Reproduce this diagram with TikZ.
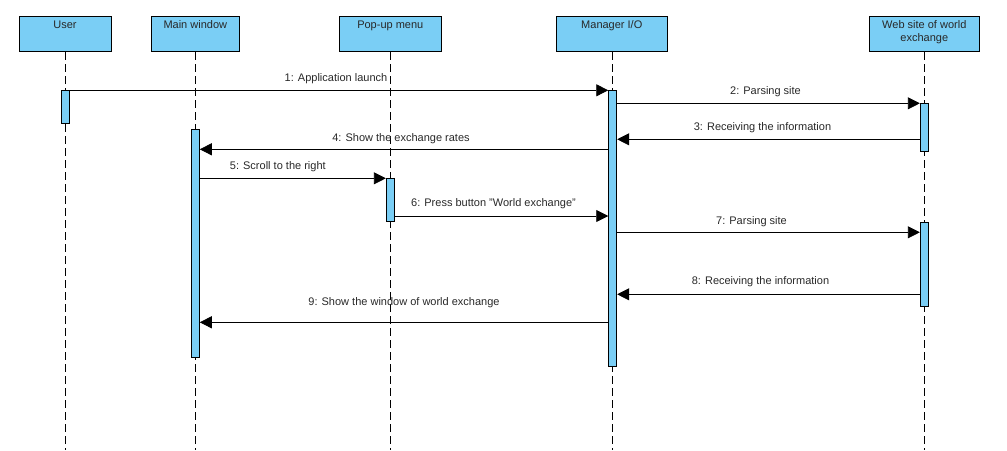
\documentclass[tikz,border=0pt]{standalone}
\usepackage{fontspec}
\setmainfont{Liberation Sans}
\usetikzlibrary{arrows.meta}
\definecolor{lifefill}{RGB}{122,206,245}
\definecolor{txtcol}{RGB}{40,40,40}
\begin{document}
\begin{tikzpicture}[x=1pt,y=-1pt,
  font=\fontsize{11}{13}\selectfont,
  head/.style={draw=black, line width=0.9pt, fill=lifefill, minimum height=35pt, inner sep=0pt, anchor=north},
  headtext/.style={anchor=north, inner sep=0pt, yshift=-4pt, align=center, text=txtcol},
  life/.style={draw=black, line width=0.7pt, dash pattern=on 8pt off 4pt},
  act/.style={draw=black, line width=0.9pt, fill=lifefill, minimum width=8pt, inner sep=0pt, anchor=north},
  msg/.style={draw=black, line width=0.8pt, -{Triangle[length=12pt,width=12pt]}},
  lbl/.style={midway, anchor=base, yshift=9pt, inner sep=0pt, text=txtcol}
]
\useasboundingbox (0,0) rectangle (1007,450);

% headers
\node[head, minimum width=92pt] (user) at (65,16.3) {};
\node[headtext] (userT) at (user.north) {User};
\node[head, minimum width=88pt] (mainw) at (195.3,16.3) {};
\node[headtext] (mainwT) at (mainw.north) {Main window};
\node[head, minimum width=102pt] (popup) at (390.3,16.3) {};
\node[headtext] (popupT) at (popup.north) {Pop-up menu};
\node[head, minimum width=111pt] (mgr) at (611.8,16.3) {};
\node[headtext] (mgrT) at (mgr.north) {Manager I/O};
\node[head, minimum width=110pt] (web) at (924.3,16.3) {};
\node[headtext] (webT) at (web.north) {Web site of world\\exchange};

% lifeline ends
\coordinate (userE) at (65.3,450);
\coordinate (mainwE) at (195.3,450);
\coordinate (popupE) at (390.3,450);
\coordinate (mgrE) at (612.3,450);
\coordinate (webE) at (924.3,450);

\draw[life] (user.south -| userE) -- (userE);
\draw[life] (mainw.south -| mainwE) -- (mainwE);
\draw[life] (popup.south -| popupE) -- (popupE);
\draw[life] (mgr.south -| mgrE) -- (mgrE);
\draw[life] (web.south -| webE) -- (webE);

% activations
\node[act, minimum height=33pt] (aUser) at (65.3,90.3) {};
\node[act, minimum height=228pt] (aMain) at (195.3,129.3) {};
\node[act, minimum height=43pt] (aPop) at (390.3,178.3) {};
\node[act, minimum height=275.7pt] (aMgr) at (612.7,90.3) {};
\node[act, minimum height=47.7pt] (aWeb1) at (924.3,103.3) {};
\node[act, minimum height=84.6pt] (aWeb2) at (924.3,221.7) {};

% messages
\draw[msg] (aUser.east |- 0,90.3) -- (aMgr.west |- 0,90.3)
  node[lbl, xshift=-3pt] {1: Application launch};
\draw[msg] (aMgr.east |- 0,103.3) -- (aWeb1.west |- 0,103.3)
  node[lbl, xshift=-3pt] {2: Parsing site};
\draw[msg] (aWeb1.west |- 0,139.3) -- (aMgr.east |- 0,139.3)
  node[lbl, xshift=-6pt, yshift=-0.5pt] {3: Receiving the information};
\draw[msg] (aMgr.west |- 0,149.3) -- (aMain.east |- 0,149.3)
  node[lbl, xshift=-3pt, yshift=-0.7pt] {4: Show the exchange rates};
\draw[msg] (aMain.east |- 0,178.3) -- (aPop.west |- 0,178.3)
  node[lbl, xshift=-15pt] {5: Scroll to the right};
\draw[msg] (aPop.east |- 0,216) -- (aMgr.west |- 0,216)
  node[lbl, xshift=-8pt, yshift=0.5pt] {6: Press button "World exchange"};
\draw[msg] (aMgr.east |- 0,232.3) -- (aWeb2.west |- 0,232.3)
  node[lbl, xshift=-17pt, yshift=-1pt] {7: Parsing site};
\draw[msg] (aWeb2.west |- 0,294.3) -- (aMgr.east |- 0,294.3)
  node[lbl, xshift=-8pt, yshift=1pt] {8: Receiving the information};
\draw[msg] (aMgr.west |- 0,322.3) -- (aMain.east |- 0,322.3)
  node[lbl, yshift=8pt] {9: Show the window of world exchange};
\end{tikzpicture}
\end{document}
